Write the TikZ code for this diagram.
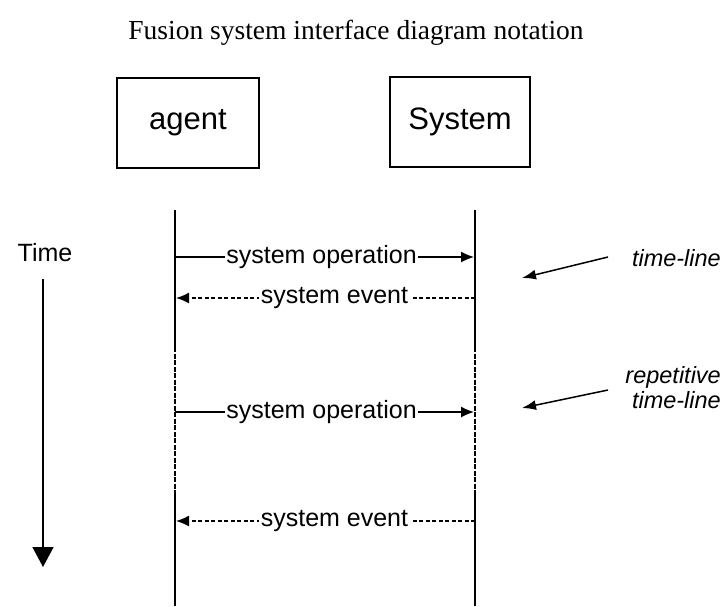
\documentclass[tikz,border=0pt]{standalone}
\usepackage{fontspec}
\setmainfont{Liberation Serif}
\setsansfont{Liberation Sans}
\usetikzlibrary{arrows.meta}
\begin{document}
\begin{tikzpicture}[x=1pt,y=-1pt,
  lbl/.style={font=\sffamily\fontsize{25}{25}\selectfont, fill=white, inner xsep=1.5pt, inner ysep=0pt},
  msgop/.style={line width=1.4pt, -{Latex[length=13pt,width=11pt]}},
  msgev/.style={line width=1.4pt, dash pattern=on 4pt off 2.5pt, -{Latex[length=13pt,width=11pt]}},
  actor/.style={draw, line width=1.5pt, minimum width=142pt, minimum height=90pt, inner sep=0pt,
    font=\sffamily\fontsize{31}{31}\selectfont},
  life/.style={line width=2pt},
  note/.style={font=\sffamily\itshape\fontsize{23.5}{25}\selectfont, align=right, inner sep=0pt},
  pointer/.style={line width=1.5pt, -{Latex[length=14pt,width=10pt]}}]
\useasboundingbox (0,0) rectangle (727,606);

% heading
\node (title) at (356,33) {\fontsize{27.5}{27.5}\selectfont Fusion system interface diagram notation};

% participants
\node[actor] (agent) at (188,123) {agent};
\node[actor, minimum width=140pt] (sys) at (460,122) {System};

% time-lines, with the repetitive part broken
\foreach \n/\x in {a/175, s/475} {
  \coordinate (\n1) at (\x,210);
  \coordinate (\n2) at (\x,347);
  \coordinate (\n3) at (\x,490);
  \coordinate (\n4) at (\x,606);
  \draw[life] (\n1) -- (\n2);
  \draw[life, dash pattern=on 5pt off 1.5pt] (\n2) -- (\n3);
  \draw[life] (\n3) -- (\n4);
}

% messages
\coordinate (op1a) at (175,257);  \coordinate (op1s) at (474,257);
\coordinate (ev1a) at (176,298);  \coordinate (ev1s) at (475,298);
\coordinate (op2a) at (175,412);  \coordinate (op2s) at (474,412);
\coordinate (ev2a) at (176,521);  \coordinate (ev2s) at (475,521);
\draw[msgop] (op1a) -- (op1s) node[lbl, pos=0.49] (m1) {system operation};
\draw[msgev] (ev1s) -- (ev1a) node[lbl, pos=0.47] (m2) {system event};
\draw[msgop] (op2a) -- (op2s) node[lbl, pos=0.49] (m3) {system operation};
\draw[msgev] (ev2s) -- (ev2a) node[lbl, pos=0.47] (m4) {system event};

% time axis
\node[font=\sffamily\fontsize{25}{25}\selectfont] (time) at (45,253) {Time};
\coordinate (t1) at (43,279);
\coordinate (t2) at (43,567);
\draw[line width=1.5pt, -{Triangle[length=20pt,width=21pt]}] (t1) -- (t2);

% annotations
\node[note, anchor=east] (tl) at (721,258) {time-line};
\coordinate (tlA) at (608,257);
\coordinate (tlB) at (522,278);
\draw[pointer] (tlA) -- (tlB);
\node[note, anchor=east] (rtl) at (721,388) {repetitive\\time-line};
\coordinate (rtlA) at (608,390);
\coordinate (rtlB) at (522,408);
\draw[pointer] (rtlA) -- (rtlB);
\end{tikzpicture}
\end{document}
